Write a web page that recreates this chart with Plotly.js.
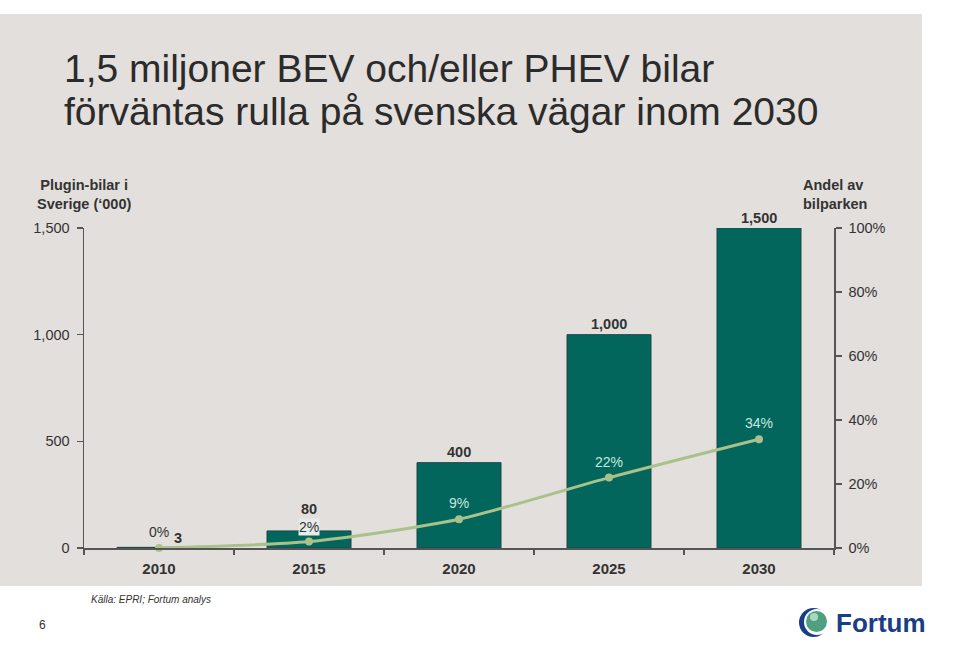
<!DOCTYPE html>
<html>
<head>
<meta charset="utf-8">
<script src="https://cdn.plot.ly/plotly-3.0.1.min.js"></script>
<style>html,body{margin:0;padding:0;background:#fff;}#chart{width:960px;height:665px;}</style>
</head>
<body>
<div id="chart"></div>
<script>
// ---- data ----
const years = ['2010', '2015', '2020', '2025', '2030'];
const cars = [3, 80, 400, 1000, 1500];            // plugin cars in Sweden ('000)
const carLabels = ['3', '80', '400', '1,000', '1,500'];
const share = [0, 2, 9, 22, 34];                  // share of the car fleet (%)
const shareLabels = ['0%', '2%', '9%', '22%', '34%'];
const leftTicks = [0, 500, 1000, 1500];
const leftTickText = ['0', '500', '1,000', '1,500'];
const rightTicks = [0, 20, 40, 60, 80, 100];
const rightTickText = ['0%', '20%', '40%', '60%', '80%', '100%'];

// ---- layout helpers (pixel -> paper) ----
const L = 84, R = 834, T = 228, B = 548;
const px = x => (x - L) / (R - L);
const py = y => (B - y) / (B - T);

const FONT = 'Liberation Sans, Arial, Helvetica, sans-serif';
const TXT = '#333333';
const BAR = '#03665d';
const LINE = '#a9c18a';
const PANEL = '#e3dfdc';
const MINT = '#c8e6dc';

const traces = [
  {
    type: 'bar', x: years, y: cars, yaxis: 'y',
    marker: {color: BAR, line: {color: '#1d4744', width: 1}},
    hoverinfo: 'skip', showlegend: false
  },
  {
    type: 'scatter', mode: 'lines+markers', x: years, y: share, yaxis: 'y2',
    line: {color: LINE, width: 3, shape: 'spline', smoothing: 0.7},
    marker: {color: LINE, size: 8},
    hoverinfo: 'skip', showlegend: false, cliponaxis: false
  }
];

const annotations = [];
// title
annotations.push({xref: 'paper', yref: 'paper', x: px(62), y: py(45), xanchor: 'left', yanchor: 'top',
  text: '1,5 miljoner BEV och/eller PHEV bilar', showarrow: false,
  font: {family: FONT, size: 39, color: '#2b2b2b'}});
annotations.push({xref: 'paper', yref: 'paper', x: px(62), y: py(88), xanchor: 'left', yanchor: 'top',
  text: 'förväntas rulla på svenska vägar inom 2030', showarrow: false,
  font: {family: FONT, size: 39, color: '#2b2b2b'}});
// axis headers
annotations.push({xref: 'paper', yref: 'paper', x: px(84), y: py(194), xanchor: 'center', yanchor: 'middle',
  text: '<b>Plugin-bilar i<br>Sverige (‘000)</b>', showarrow: false, align: 'center',
  font: {family: FONT, size: 14.5, color: TXT}});
annotations.push({xref: 'paper', yref: 'paper', x: px(801), y: py(194), xanchor: 'left', yanchor: 'middle',
  text: '<b>Andel av<br>bilparken</b>', showarrow: false, align: 'left',
  font: {family: FONT, size: 14.5, color: TXT}});
// source + page number
annotations.push({xref: 'paper', yref: 'paper', x: px(89), y: py(599), xanchor: 'left', yanchor: 'middle',
  text: '<i>Källa: EPRI; Fortum analys</i>', showarrow: false,
  font: {family: FONT, size: 10, color: TXT}});
annotations.push({xref: 'paper', yref: 'paper', x: px(42), y: py(625), xanchor: 'center', yanchor: 'middle',
  text: '6', showarrow: false, font: {family: FONT, size: 12, color: TXT}});
// logo text
annotations.push({xref: 'paper', yref: 'paper', x: px(834), y: py(623), xanchor: 'left', yanchor: 'middle',
  text: '<b>Fortum</b>', showarrow: false, font: {family: FONT, size: 26, color: '#1a3d88'}});

// bar value labels (category axis: position by category index)
years.forEach((yr, i) => {
  annotations.push({x: i, y: cars[i], xref: 'x', yref: 'y', showarrow: false,
    text: '<b>' + carLabels[i] + '</b>', yanchor: 'middle',
    xshift: i === 0 ? 19 : 0, yshift: i === 1 ? 22 : (i === 0 ? 9.5 : 10.5),
    font: {family: FONT, size: 14.5, color: TXT}});
});
// share labels
years.forEach((yr, i) => {
  const a = {x: i, y: share[i], xref: 'x', yref: 'y2', showarrow: false,
    text: shareLabels[i], yanchor: 'middle', yshift: 16,
    font: {family: FONT, size: 14, color: i >= 2 ? MINT : TXT}};
  if (i === 1) { a.bgcolor = '#e6ecea'; a.borderpad = 0; a.yshift = 14.5; }
  annotations.push(a);
});

const shapes = [
  // grey panel
  {type: 'rect', xref: 'paper', yref: 'paper', x0: px(0), x1: px(922), y0: py(586), y1: py(14),
   fillcolor: PANEL, line: {width: 0}, layer: 'below'},
  // logo
  {type: 'circle', xref: 'paper', yref: 'paper', x0: px(799), x1: px(828), y0: py(637), y1: py(608),
   fillcolor: '#1a3d88', line: {width: 0}},
  {type: 'circle', xref: 'paper', yref: 'paper', x0: px(804), x1: px(830), y0: py(635), y1: py(609),
   fillcolor: '#ffffff', line: {width: 0}},
  {type: 'circle', xref: 'paper', yref: 'paper', x0: px(806), x1: px(827), y0: py(632), y1: py(611),
   fillcolor: '#4f9f80', line: {width: 0}},
  {type: 'circle', xref: 'paper', yref: 'paper', x0: px(810), x1: px(818), y0: py(621), y1: py(613),
   fillcolor: '#a8d8bf', line: {width: 0}}
];

const axisCommon = {
  showgrid: false, zeroline: false, showline: true, linecolor: '#555555', linewidth: 1.5,
  ticks: 'outside', ticklen: 6, tickcolor: '#555555', tickwidth: 1.2,
  tickfont: {family: FONT, size: 14.5, color: TXT}
};

const layout = {
  width: 960, height: 665,
  margin: {l: L, r: 960 - R, t: T, b: 665 - B, pad: 0},
  paper_bgcolor: '#ffffff', plot_bgcolor: 'rgba(0,0,0,0)',
  showlegend: false,
  bargap: 0.44,
  xaxis: Object.assign({}, axisCommon, {
    type: 'category', range: [-0.5, 4.5], tickson: 'boundaries', ticklen: 5,
    tickfont: {family: FONT, size: 15, color: TXT}, ticklabelstandoff: 6,
    tickprefix: '<b>', ticksuffix: '</b>'
  }),
  yaxis: Object.assign({}, axisCommon, {
    range: [0, 1500], tickvals: leftTicks, ticktext: leftTickText, ticklabelstandoff: 4
  }),
  yaxis2: Object.assign({}, axisCommon, {
    range: [0, 100], tickvals: rightTicks, ticktext: rightTickText,
    overlaying: 'y', side: 'right', ticklabelstandoff: 4
  }),
  annotations: annotations,
  shapes: shapes
};

Plotly.newPlot('chart', traces, layout, {staticPlot: true, displayModeBar: false});
</script>
</body>
</html>
